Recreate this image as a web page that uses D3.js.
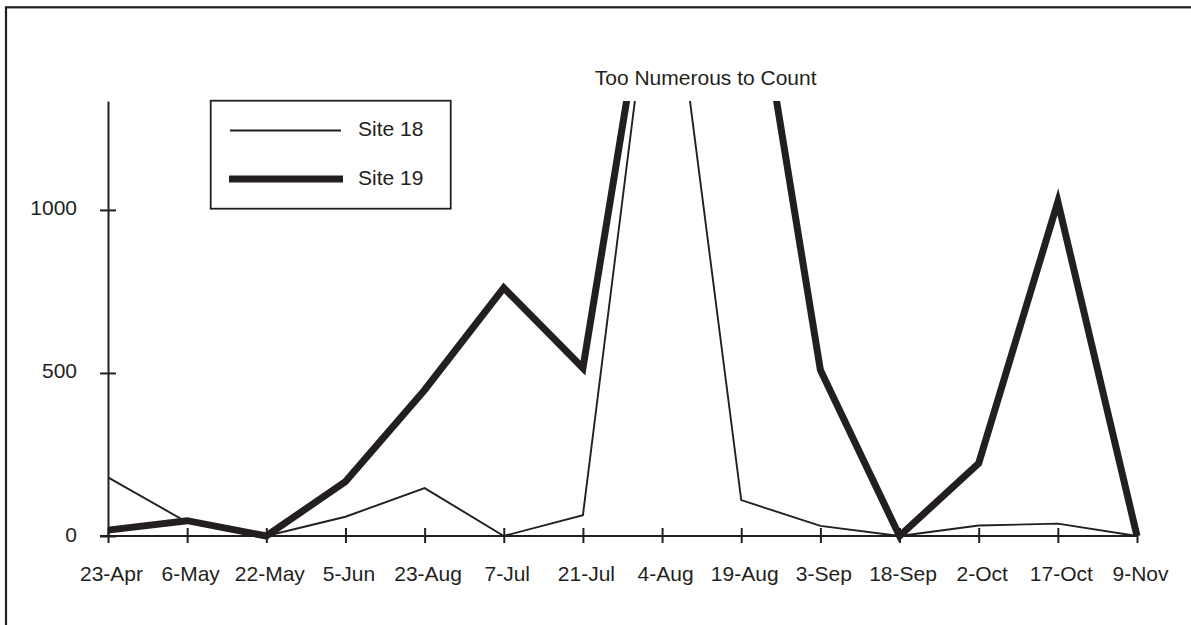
<!DOCTYPE html>
<html>
<head>
<meta charset="utf-8">
<script src="https://cdn.jsdelivr.net/npm/d3@7"></script>
<style>
  html, body { margin: 0; padding: 0; background: #fff; }
  svg { display: block; }
  text { font-family: "Liberation Sans", Arial, sans-serif; fill: #231f20; }
</style>
</head>
<body>
<svg id="chart" width="1191" height="625"></svg>
<script>
const categories = ["23-Apr","6-May","22-May","5-Jun","23-Aug","7-Jul","21-Jul","4-Aug","19-Aug","3-Sep","18-Sep","2-Oct","17-Oct","9-Nov"];
// "Too Numerous to Count" entries are drawn as values above the visible axis range
const site18 = [180, 42, 0, 59, 147, 0, 64, 2000, 110, 31, 0, 32, 38, 0];
const site19 = [18, 47, 0, 167, 448, 761, 515, 2000, 2000, 509, 0, 223, 1025, 0];
const seriesNames = ["Site 18", "Site 19"];
const yTicks = [0, 500, 1000];
const annotation = "Too Numerous to Count";

const ink = "#231f20";
const svg = d3.select("#chart");

// outer frame (extends past right/bottom edges)
svg.append("rect")
  .attr("x", 6).attr("y", 7.3).attr("width", 1400).attr("height", 900)
  .attr("fill", "none").attr("stroke", ink).attr("stroke-width", 2.2);

const x = d3.scalePoint().domain(categories).range([108, 1137]);
const y = d3.scaleLinear().domain([0, 1334]).range([536, 101]);

// Y axis
const yAxis = svg.append("g").attr("transform", "translate(108,0)")
  .call(d3.axisLeft(y).tickValues(yTicks).tickSize(0).tickPadding(0).tickFormat(d3.format("d")));
yAxis.select(".domain").attr("stroke", ink).attr("stroke-width", 2);
yAxis.selectAll(".tick line").attr("x1", -8).attr("x2", 8).attr("stroke", ink).attr("stroke-width", 2);
yAxis.selectAll(".tick text")
  .attr("x", -31).attr("dy", null).attr("y", 5)
  .attr("text-anchor", "end")
  .style("font-size", "21px").attr("fill", ink)
  .style("font-family", '"Liberation Sans", Arial, sans-serif');

// X axis
const xAxis = svg.append("g").attr("transform", "translate(0,536)")
  .call(d3.axisBottom(x).tickSize(0).tickPadding(0));
xAxis.select(".domain").attr("stroke", ink).attr("stroke-width", 2)
  .attr("d", `M${100},0H${1137}`);
xAxis.selectAll(".tick line").attr("y1", -8).attr("y2", 7).attr("stroke", ink).attr("stroke-width", 2);
xAxis.selectAll(".tick text")
  .attr("dy", null).attr("y", 45).attr("x", 3)
  .style("font-size", "21px").attr("fill", ink)
  .style("font-family", '"Liberation Sans", Arial, sans-serif');

// clip lines at top of axis
svg.append("defs").append("clipPath").attr("id", "plotClip")
  .append("rect").attr("x", 0).attr("y", y.range()[1]).attr("width", 1191).attr("height", 625);

const line = d3.line().x((d, i) => x(categories[i])).y(d => y(d));

const g = svg.append("g").attr("clip-path", "url(#plotClip)");
g.append("path").datum(site18).attr("d", line)
  .attr("fill", "none").attr("stroke", ink).attr("stroke-width", 1.9);
g.append("path").datum(site19).attr("d", line)
  .attr("fill", "none").attr("stroke", ink).attr("stroke-width", 7);

// annotation
svg.append("text")
  .attr("x", (x("4-Aug") + x("19-Aug")) / 2 + 4).attr("y", 85)
  .attr("text-anchor", "middle").style("font-size", "21px")
  .text(annotation);

// legend
const lg = svg.append("g");
lg.append("rect").attr("x", 210.7).attr("y", 100.7).attr("width", 240).attr("height", 108)
  .attr("fill", "#fff").attr("stroke", ink).attr("stroke-width", 1.8);
const legendRows = [
  { name: seriesNames[0], w: 1.9, y: 130.5, x1: 230, x2: 341 },
  { name: seriesNames[1], w: 7, y: 179, x1: 229, x2: 343 }
];
legendRows.forEach(r => {
  lg.append("line").attr("x1", r.x1).attr("x2", r.x2).attr("y1", r.y).attr("y2", r.y)
    .attr("stroke", ink).attr("stroke-width", r.w);
  lg.append("text").attr("x", 358).attr("y", r.y + 5.5).style("font-size", "21px").text(r.name);
});
</script>
</body>
</html>
